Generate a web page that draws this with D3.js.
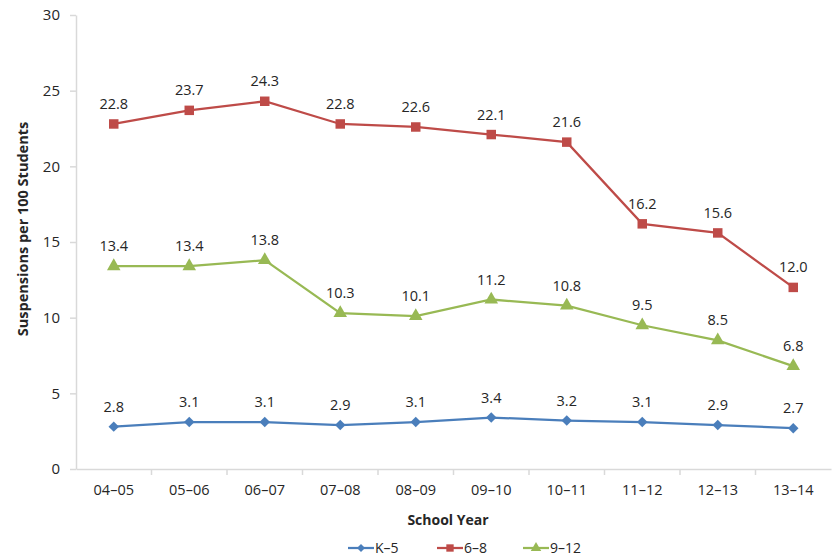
<!DOCTYPE html>
<html>
<head>
<meta charset="utf-8">
<script src="https://cdn.jsdelivr.net/npm/d3@7"></script>
<style>
  body { margin: 0; background: #fff; }
  svg text { font-family: "Open Sans", "Noto Sans", sans-serif; fill: #262626; }
</style>
</head>
<body>
<svg id="chart"></svg>
<script>
let years = ["04–05", "05–06", "06–07", "07–08", "08–09", "09–10", "10–11", "11–12", "12–13", "13–14"];
let k5 = [2.8, 3.1, 3.1, 2.9, 3.1, 3.4, 3.2, 3.1, 2.9, 2.7];
let g68 = [22.8, 23.7, 24.3, 22.8, 22.6, 22.1, 21.6, 16.2, 15.6, 12.0];
let g912 = [13.4, 13.4, 13.8, 10.3, 10.1, 11.2, 10.8, 9.5, 8.5, 6.8];
let yTicks = [0, 5, 10, 15, 20, 25, 30];

let series = [
  { name: "K–5", values: k5, color: "#4a7ebb", symbol: d3.symbolDiamond2, size: 70 },
  { name: "6–8", values: g68, color: "#be4b48", symbol: d3.symbolSquare, size: 90 },
  { name: "9–12", values: g912, color: "#98b954", symbol: d3.symbolTriangle, size: 80 }
];

let width = 835, height = 559;
let svg = d3.select("#chart").attr("width", width).attr("height", height);

let x = d3.scaleBand().domain(years).range([76, 831]);
let y = d3.scaleLinear().domain([0, 30]).range([469, 15]);

// x axis
let xAxis = svg.append("g").attr("transform", "translate(0,469)")
  .call(d3.axisBottom(x).tickSize(0).tickPadding(16));
xAxis.select(".domain").attr("stroke", "#d9d9d9").attr("stroke-width", 1.5);
xAxis.selectAll("text").style("font-size", "14.5px");
svg.append("g").selectAll("line")
  .data(years.slice(1))
  .enter()
  .append("line")
  .attr("x1", (d) => x(d)).attr("x2", (d) => x(d))
  .attr("y1", 469).attr("y2", 475)
  .attr("stroke", "#d9d9d9").attr("stroke-width", 1.5);

// y axis
let yAxis = svg.append("g").attr("transform", "translate(76,0)")
  .call(d3.axisLeft(y).tickValues(yTicks).tickSize(6).tickSizeOuter(0).tickPadding(10));
yAxis.select(".domain").attr("stroke", "#d9d9d9").attr("stroke-width", 1.5);
yAxis.selectAll(".tick line").attr("stroke", "#d9d9d9").attr("stroke-width", 1.5);
yAxis.selectAll("text").style("font-size", "15px");

// titles
svg.append("text")
  .attr("transform", "translate(23,229) rotate(-90)")
  .attr("dy", "0.35em")
  .attr("text-anchor", "middle")
  .style("font-size", "14.5px").style("font-weight", "bold")
  .text("Suspensions per 100 Students");
svg.append("text")
  .attr("x", 448).attr("y", 525)
  .attr("text-anchor", "middle")
  .style("font-size", "14px").style("font-weight", "bold")
  .text("School Year");

let cx = (i) => x(years[i]) + x.bandwidth() / 2;
let line = d3.line().x((d, i) => cx(i)).y((d) => y(d));

series.forEach((s) => {
  let g = svg.append("g");
  g.append("path")
    .attr("d", line(s.values))
    .attr("fill", "none")
    .attr("stroke", s.color)
    .attr("stroke-width", 2.25);
  g.selectAll("path.pt")
    .data(s.values)
    .enter()
    .append("path")
    .attr("class", "pt")
    .attr("d", d3.symbol().type(s.symbol).size(s.size))
    .attr("transform", (d, i) => "translate(" + cx(i) + "," + y(d) + ")")
    .attr("fill", s.color);
  g.selectAll("text")
    .data(s.values)
    .enter()
    .append("text")
    .attr("x", (d, i) => cx(i))
    .attr("y", (d) => y(d) - 15)
    .attr("text-anchor", "middle")
    .style("font-size", "14.5px")
    .text((d) => d.toFixed(1));
});

// legend
let legendX = [348, 437, 523];
series.forEach((s, i) => {
  let lg = svg.append("g").attr("transform", "translate(" + legendX[i] + ",548)");
  lg.append("line").attr("x1", 0).attr("x2", 26).attr("stroke", s.color).attr("stroke-width", 2.25);
  lg.append("path")
    .attr("d", d3.symbol().type(s.symbol).size(s.size * 0.6))
    .attr("transform", "translate(13,0)")
    .attr("fill", s.color);
  lg.append("text").attr("x", 27).attr("y", 5).style("font-size", "14px").text(s.name);
});
</script>
</body>
</html>
